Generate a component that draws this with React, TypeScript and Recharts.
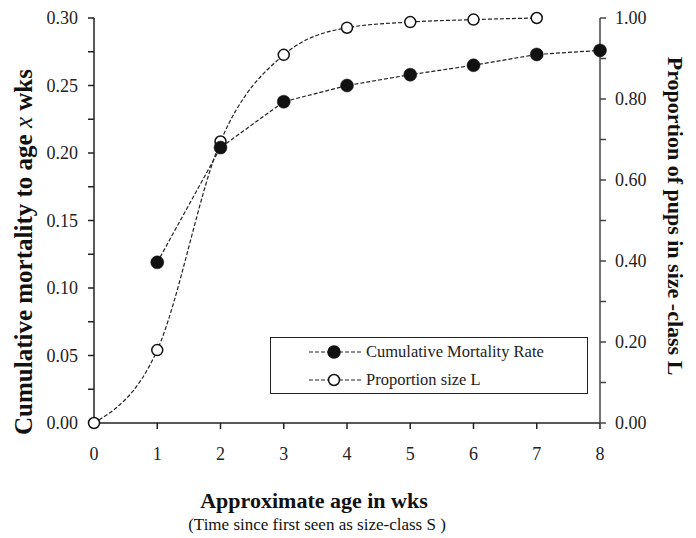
import React from "react";
import { ComposedChart, Line, XAxis, YAxis, Customized } from "recharts";

const weeks = [0, 1, 2, 3, 4, 5, 6, 7, 8];
const mortality = [null, 0.119, 0.204, 0.238, 0.25, 0.258, 0.265, 0.273, 0.276];
const proportionL = [0, 0.18, 0.695, 0.909, 0.976, 0.99, 0.996, 1.0, null];

const leftTicks = [0, 0.025, 0.05, 0.075, 0.1, 0.125, 0.15, 0.175, 0.2, 0.225, 0.25, 0.275, 0.3];
const rightTicks = [0, 0.1, 0.2, 0.3, 0.4, 0.5, 0.6, 0.7, 0.8, 0.9, 1.0];

const data = weeks.map((w, i) => ({
  week: w,
  mortality: mortality[i],
  proportion: proportionL[i],
}));

const FONT = '"Liberation Serif", "Times New Roman", serif';
const AXIS = "#222";

// label every other tick, the rest stay as plain minor ticks
const leftFmt = (v: number) => {
  const k = Math.round(v / 0.025);
  return k % 2 === 0 ? v.toFixed(2) : "";
};
const rightFmt = (v: number) => {
  const k = Math.round(v / 0.1);
  return k % 2 === 0 ? v.toFixed(2) : "";
};

function LegendBox() {
  const row = (filled: boolean, label: string) => (
    <div style={{ display: "flex", alignItems: "center", height: 28 }}>
      <svg width={54} height={16} style={{ marginLeft: 38 }}>
        <line x1={0} y1={8} x2={54} y2={8} stroke={AXIS} strokeWidth={1.2} strokeDasharray="4 2" />
        <circle
          cx={25}
          cy={8}
          r={filled ? 6 : 5.5}
          fill={filled ? "#111" : "#fff"}
          stroke="#111"
          strokeWidth={1.5}
        />
      </svg>
      <span style={{ marginLeft: 3, fontSize: 16.5, fontFamily: FONT, color: "#222", lineHeight: 1 }}>
        {label}
      </span>
    </div>
  );
  return (
    <div
      style={{
        position: "absolute",
        left: 270,
        top: 337,
        border: "1.5px solid #222",
        width: 318,
        height: 57,
        boxSizing: "border-box",
        background: "#fff",
      }}
    >
      {row(true, "Cumulative Mortality Rate")}
      {row(false, "Proportion size L")}
    </div>
  );
}

function Titles() {
  return (
    <g fontFamily={FONT} fill="#111">
      <text
        transform="translate(32,252) rotate(-90)"
        textAnchor="middle"
        fontSize={25}
        fontWeight="bold"
      >
        Cumulative mortality to age{" "}
        <tspan fontStyle="italic" fontWeight="normal"> x </tspan> wks
      </text>
      <text
        transform="translate(668,216) rotate(90)"
        textAnchor="middle"
        fontSize={22}
        fontWeight="bold"
      >
        Proportion of pups in size -class L
      </text>
      <text x={314} y={508} textAnchor="middle" fontSize={22} fontWeight="bold">
        Approximate age in wks
      </text>
      <text x={317} y={530} textAnchor="middle" fontSize={17}>
        (Time since first seen as size-class S )
      </text>
    </g>
  );
}

export default function App() {
  return (
    <div style={{ position: "absolute", left: 0, top: 0, width: 696, height: 538, background: "#fff" }}>
      <ComposedChart
        width={696}
        height={538}
        data={data}
        margin={{ top: 18, right: 0, bottom: 75, left: 0 }}
      >
        <XAxis
          dataKey="week"
          type="number"
          domain={[0, 8]}
          ticks={weeks}
          stroke={AXIS}
          strokeWidth={1.5}
          tickSize={6}
          tickMargin={18}
          height={40}
          tick={{ fill: "#222", fontSize: 18, fontFamily: FONT }}
          interval={0}
        />
        <YAxis
          yAxisId="left"
          domain={[0, 0.3]}
          ticks={leftTicks}
          tickFormatter={leftFmt}
          stroke={AXIS}
          strokeWidth={1.5}
          tickSize={6}
          tickMargin={10}
          width={94}
          interval={0}
          tick={{ fill: "#222", fontSize: 18, fontFamily: FONT }}
        />
        <YAxis
          yAxisId="right"
          orientation="right"
          domain={[0, 1]}
          ticks={rightTicks}
          tickFormatter={rightFmt}
          stroke="#444"
          strokeWidth={1.5}
          tickSize={6}
          tickMargin={9}
          width={96}
          interval={0}
          tick={{ fill: "#222", fontSize: 18, fontFamily: FONT, textAnchor: "start" }}
        />
        <Line
          yAxisId="right"
          dataKey="proportion"
          type="monotone"
          stroke={AXIS}
          strokeWidth={1.2}
          strokeDasharray="4 2"
          dot={{ r: 5.5, fill: "#fff", stroke: "#111", strokeWidth: 1.5, strokeDasharray: "" }}
          isAnimationActive={false}
        />
        <Line
          yAxisId="left"
          dataKey="mortality"
          type="linear"
          stroke={AXIS}
          strokeWidth={1.2}
          strokeDasharray="4 2"
          dot={{ r: 6.5, fill: "#111", stroke: "#111", strokeWidth: 0.5, strokeDasharray: "" }}
          isAnimationActive={false}
        />
        <Customized component={Titles} />
      </ComposedChart>
      <LegendBox />
    </div>
  );
}
